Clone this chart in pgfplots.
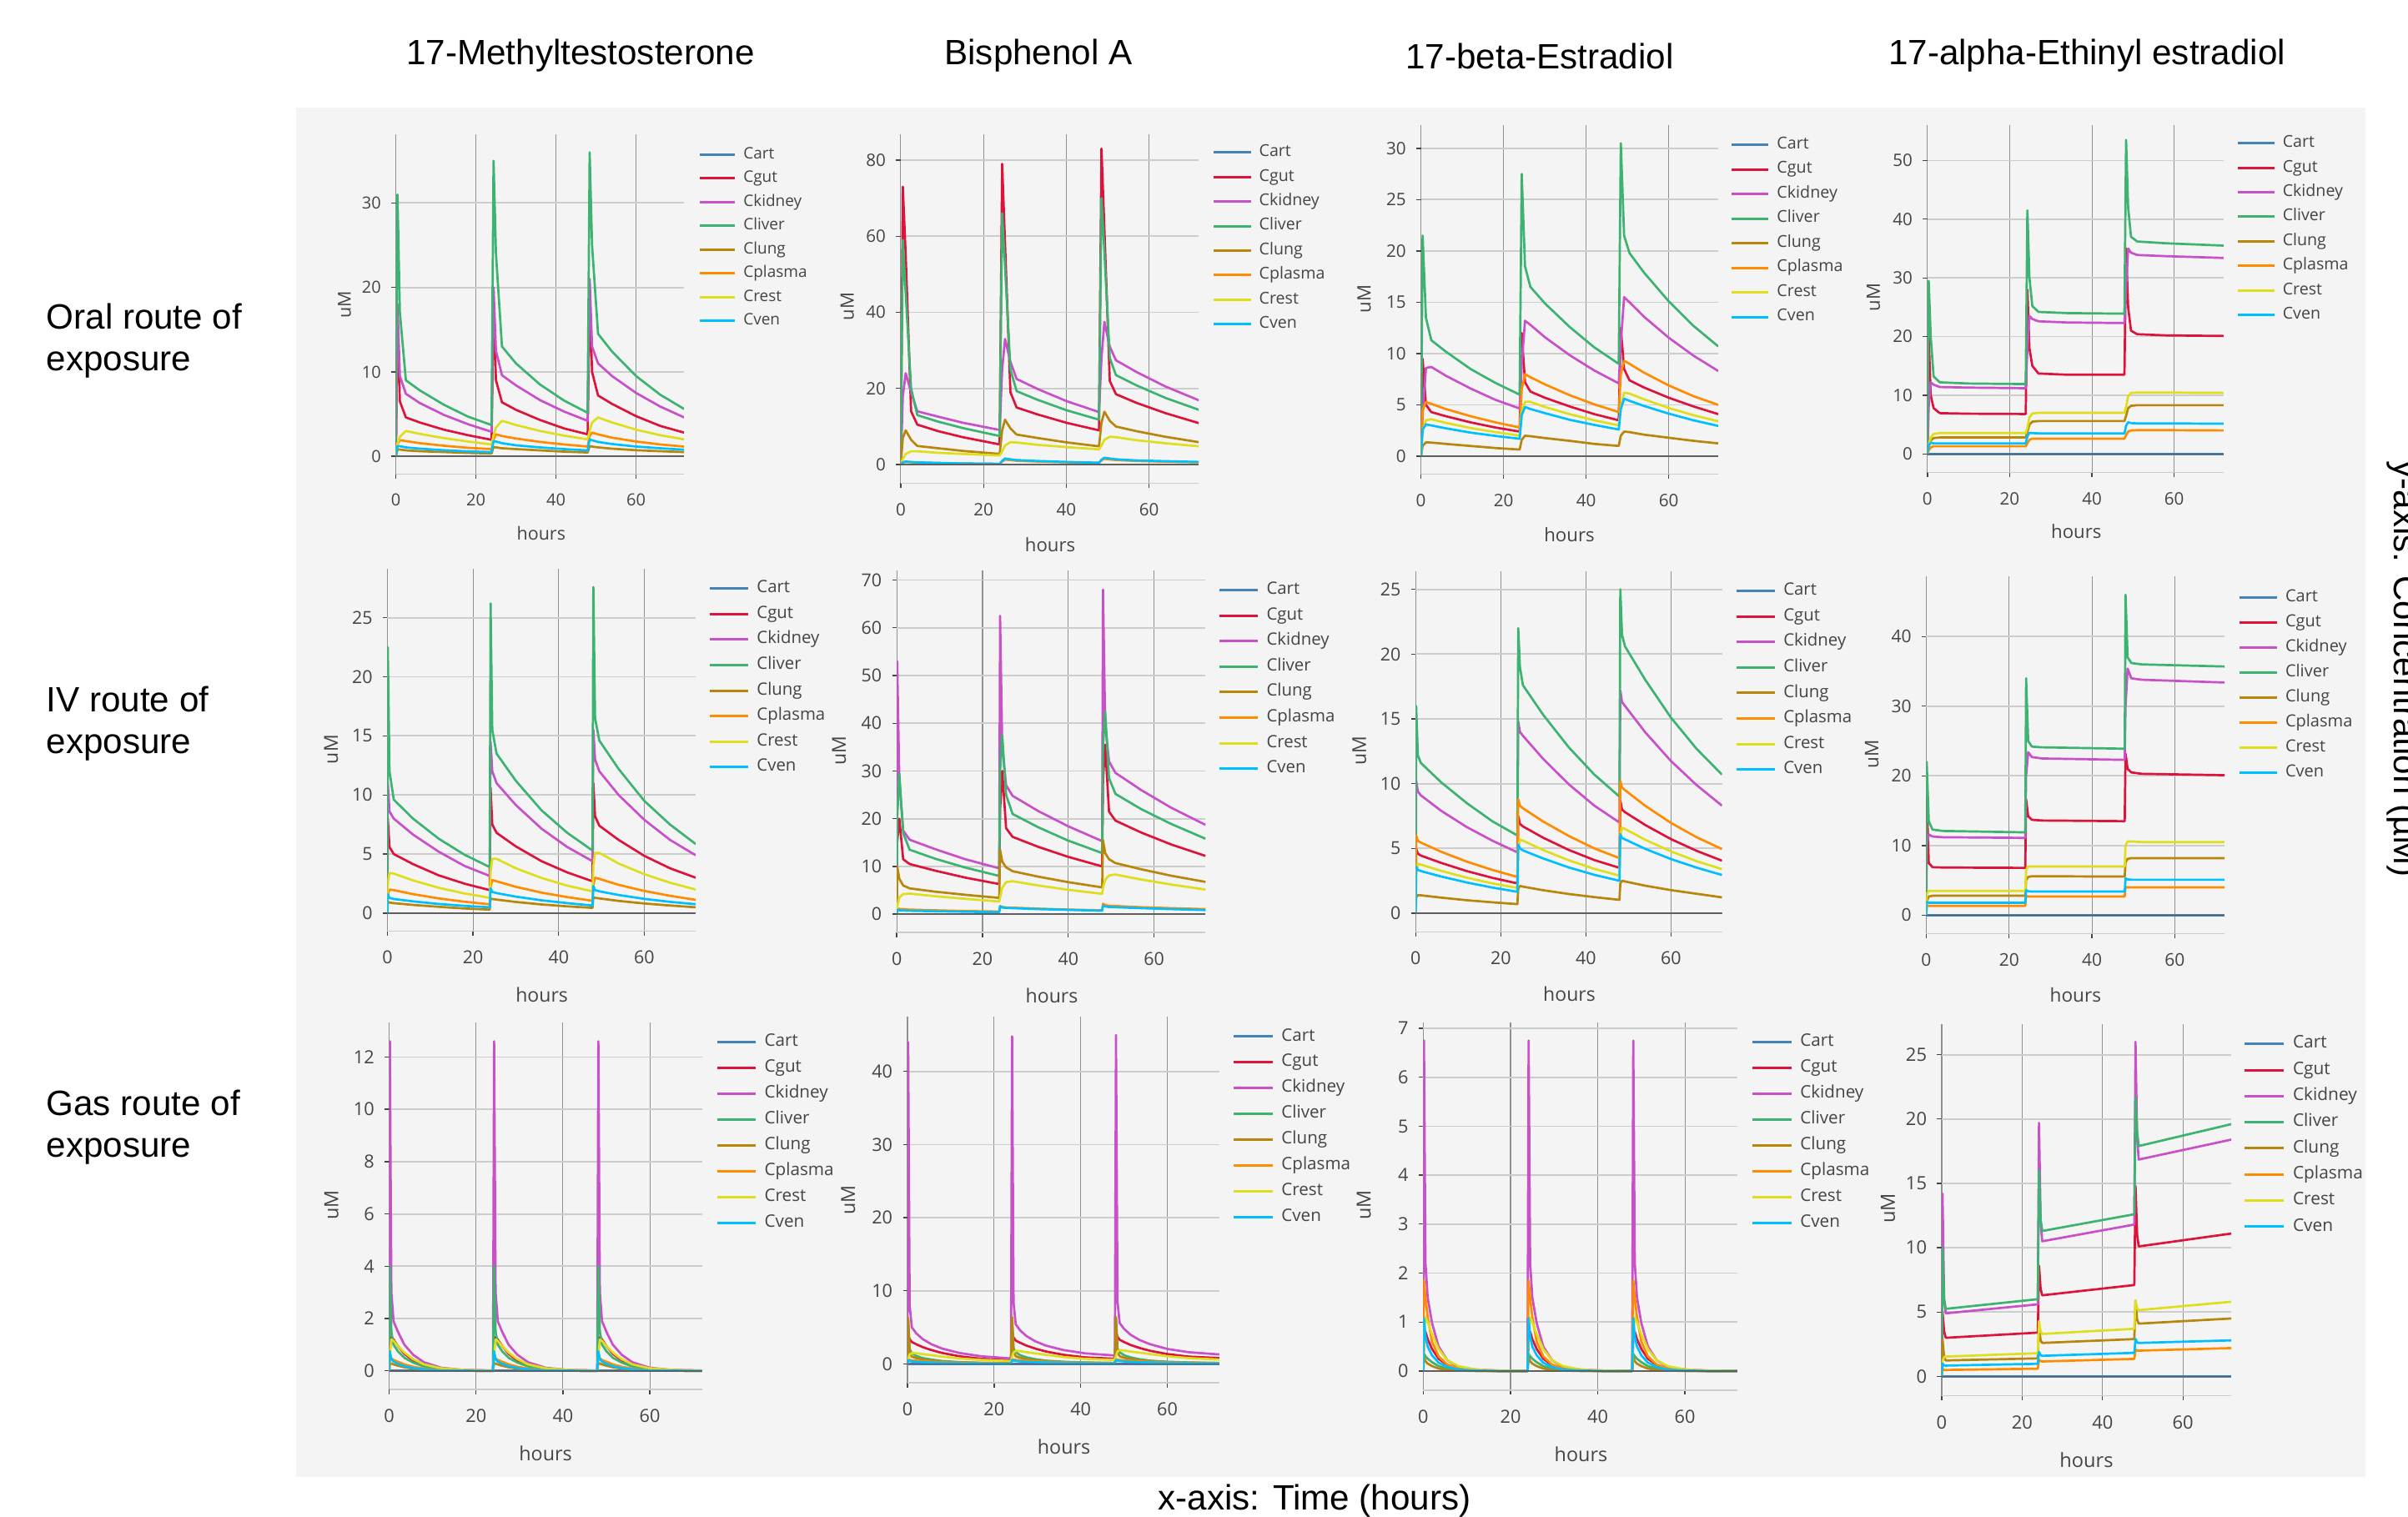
\documentclass[border=0pt]{standalone}
\usepackage{fontspec}
\setmainfont{Liberation Sans}
\newfontfamily\osans{Open Sans}
\usepackage{pgfplots}
\pgfplotsset{compat=1.18}
\usepackage{pgfplotstable}

\definecolor{colCart}{RGB}{70,130,180}
\definecolor{colGut}{RGB}{220,20,60}
\definecolor{colKid}{RGB}{200,80,200}
\definecolor{colLiv}{RGB}{60,179,113}
\definecolor{colLung}{RGB}{184,134,11}
\definecolor{colPlas}{RGB}{255,140,0}
\definecolor{colRest}{RGB}{222,222,28}
\definecolor{colVen}{RGB}{0,191,255}
\definecolor{bg}{RGB}{244,244,244}
\definecolor{txt}{RGB}{68,68,68}
\definecolor{gridv}{RGB}{145,145,145}
\definecolor{gridh}{RGB}{205,205,205}
\definecolor{zerol}{RGB}{95,95,95}

\newcommand\setgeom[5]{%
  \def\XZ{#1}\def\XE{#2}\def\YB{#3}\def\YT{#4}\def\FS{#5}%
  \pgfmathsetlengthmacro\Wd{(#2-#1)*0.1mm}%
  \pgfmathsetlengthmacro\Ht{(#3-#4)*0.1mm}%
  \pgfmathsetlengthmacro\PX{#1*0.1mm}%
  \pgfmathsetlengthmacro\PY{(1818-#3)*0.1mm}%
  \pgfmathsetmacro\TFS{1.05*#5}%
  \pgfmathsetmacro\AFS{1.13*#5}%
}
\newcommand\setlab[7]{%
  \pgfmathsetmacro\lrx{(#1-\XZ)/(\XE-\XZ)}%
  \pgfmathsetmacro\lry{(\YB-(#2-0.5*\FS/0.28453))/(\YB-\YT)}%
  \pgfmathsetlengthmacro\RS{#3*0.28453pt-\FS pt}%
  \pgfmathsetlengthmacro\LL{2.25*\FS pt}%
  \pgfmathsetlengthmacro\CS{0.44*\FS pt}%
  \pgfmathsetlengthmacro\LTH{0.75*\FS pt}%
  \pgfmathsetlengthmacro\LTD{0.25*\FS pt}%
  \pgfmathsetlengthmacro\LHH{0.5*\FS pt}%
  \pgfmathsetmacro\urx{(#4-\XZ)/(\XE-\XZ)}%
  \pgfmathsetmacro\ury{(\YB-#5)/(\YB-\YT)}%
  \pgfmathsetmacro\hrx{(#6-\XZ)/(\XE-\XZ)}%
  \pgfmathsetmacro\hry{(\YB-#7)/(\YB-\YT)}%
}

\pgfplotsset{
 panel/.style={
  scale only axis, width=\Wd, height=\Ht,
  at={(\PX,\PY)}, anchor=south west,
  xmin=0, xmax=72, xtick={0,20,40,60},
  axis x line*=bottom, axis y line*=left,
  x axis line style={-, draw=gridh, line width=0.15mm},
  y axis line style={-, draw=none},
  xmajorgrids, ymajorgrids,
  x grid style={draw=gridv, line width=0.11mm},
  y grid style={draw=gridh, line width=0.18mm},
  tick align=outside, major tick length=0.55mm,
  tick style={draw=txt, line width=0.13mm},
  tick label style={font=\osans\fontsize{\TFS}{\TFS}\selectfont, text=txt},
  xticklabel style={yshift=-0.6mm},
  /pgf/number format/assume math mode=true,
  xlabel={hours}, ylabel={uM},
  label style={font=\osans\fontsize{\AFS}{\AFS}\selectfont, text=txt},
  xlabel style={at={(axis description cs:\hrx,\hry)}, anchor=center},
  ylabel style={at={(axis description cs:\urx,\ury)}, anchor=center},
  legend cell align=left,
  legend style={at={(\lrx,\lry)}, anchor=north west, draw=none, fill=none,
    inner sep=0pt, outer sep=0pt, row sep=\RS, column sep=\CS,
    font=\osans\fontsize{\FS}{\FS}\selectfont, text=txt,
    nodes={inner sep=0pt, text height=\LTH, text depth=\LTD}},
  legend image code/.code={\path[draw=none,fill=none] (0pt,-\LHH) rectangle (\LL,\LHH);
    \draw[##1, line width=0.3mm] (0pt,0pt) -- (\LL,0pt);},
  every axis plot/.append style={line width=0.27mm, line join=round},
 }
}

\newcommand\allseries[1]{%
\addplot[colCart] table[x=t,y=cart]{#1};\addlegendentry{Cart}
\addplot[colGut] table[x=t,y=gut]{#1};\addlegendentry{Cgut}
\addplot[colKid] table[x=t,y=kid]{#1};\addlegendentry{Ckidney}
\addplot[colLiv] table[x=t,y=liv]{#1};\addlegendentry{Cliver}
\addplot[colLung] table[x=t,y=lung]{#1};\addlegendentry{Clung}
\addplot[colPlas] table[x=t,y=plas]{#1};\addlegendentry{Cplasma}
\addplot[colRest] table[x=t,y=rest]{#1};\addlegendentry{Crest}
\addplot[colVen] table[x=t,y=ven]{#1};\addlegendentry{Cven}
\addplot[zerol, line width=0.15mm, forget plot] table[x=t,y=cart]{#1};
}

% ---------- Oral, 17-Methyltestosterone
\pgfplotstableread{
t cart gut kid liv lung plas rest ven
0 0 0 0 0 0 0 0 0
0.4 0 16 18 31 0.8 1.4 1.5 1.2
1 0 6.5 9.5 17 0.8 1.9 2.3 1.2
2.5 0 4.6 7.4 9.0 0.7 1.8 3.0 1.05
6 0 4.0 6.3 7.8 0.6 1.55 2.65 0.9
12 0 3.15 4.9 6.1 0.5 1.25 2.15 0.72
18 0 2.5 3.8 4.7 0.4 1.0 1.75 0.58
23.9 0 1.95 2.9 3.7 0.33 0.85 1.4 0.5
24.4 0 18 20 35 1.1 2.0 2.5 1.8
25 0 9 12.5 24 1.05 2.6 3.4 1.75
26.5 0 6.4 9.6 13 0.95 2.4 4.2 1.55
30 0 5.5 8.4 11.0 0.85 2.1 3.7 1.3
36 0 4.3 6.65 8.5 0.7 1.7 3.0 1.05
42 0 3.3 5.3 6.6 0.55 1.4 2.45 0.85
47.9 0 2.6 4.2 5.15 0.45 1.15 2.0 0.7
48.4 0 19 21 36 1.2 2.4 3.0 2.0
49 0 10 13 25 1.15 2.8 4.0 1.9
50.5 0 7.2 11.0 14.5 1.05 2.6 4.6 1.7
54 0 6.2 9.5 12.4 0.9 2.2 4.0 1.45
60 0 4.75 7.5 9.5 0.72 1.75 3.15 1.15
66 0 3.6 5.9 7.3 0.6 1.4 2.5 0.95
72 0 2.8 4.6 5.6 0.5 1.15 2.0 0.78
}\tA
% ---------- Oral, Bisphenol A
\pgfplotstableread{
t cart gut kid liv lung plas rest ven
0 0 0 0 0 0 0 0 0
0.5 0 73 18 59 7 0.5 1.5 0.6
1.2 0 55 24 45 9.0 0.7 2.8 0.8
2.5 0 14 19 20 6.5 0.6 3.5 0.7
4 0 10.5 14.0 13 4.9 0.5 3.5 0.6
9 0 8.8 12.6 11.3 4.3 0.4 3.1 0.45
15 0 7.2 11.0 9.6 3.6 0.3 2.8 0.3
23.9 0 5.3 9.1 7.5 2.8 0.2 2.4 0.2
24.5 0 79 25 66 9 0.8 3.5 1.0
25.2 0 58 33 52 11.8 1.3 5.0 1.6
26.5 0 19 27 25 9.5 1.2 5.9 1.4
28 0 15.0 22.5 19.3 7.9 1.0 5.8 1.2
33 0 13.2 19.9 17.05 7.0 0.8 5.2 0.95
40 0 11.0 16.7 14.3 5.85 0.6 4.6 0.7
47.9 0 9.0 13.8 11.8 4.8 0.45 4.0 0.5
48.5 0 83 28 70 11 1.1 5.0 1.3
49.2 0 62 37.5 56 13.9 1.5 6.5 1.8
50.5 0 22 31 28 11.5 1.35 7.3 1.6
52 0 18.5 27.4 23.5 10.0 1.2 7.2 1.4
57 0 16.2 24.3 20.8 8.77 0.95 6.4 1.1
64 0 13.5 20.5 17.5 7.3 0.75 5.6 0.9
72 0 10.9 16.9 14.4 5.9 0.6 4.8 0.7
}\tB
% ---------- Oral, 17-beta-Estradiol
\pgfplotstableread{
t cart gut kid liv lung plas rest ven
0 0 0 0 0 0 0 0 0
0.4 0 9.5 4 21.5 1.0 4.5 2.5 2.6
1.2 0 5.0 8.6 13.5 1.35 5.3 3.5 3.1
2.5 0 4.3 8.7 11.3 1.33 5.1 3.6 3.0
6 0 3.9 7.85 10.2 1.2 4.6 3.25 2.72
12 0 3.3 6.6 8.5 1.0 3.9 2.75 2.3
18 0 2.8 5.5 7.15 0.8 3.3 2.35 1.98
23.9 0 2.4 4.65 6.0 0.65 2.8 2.0 1.7
24.4 0 12 9 27.5 1.6 6.5 4.2 4.0
25.2 0 7.2 13.2 18.5 2.0 8.0 5.3 4.8
26.5 0 6.3 12.8 16.5 1.95 7.7 5.3 4.6
30 0 5.7 11.6 14.9 1.77 7.0 4.8 4.2
36 0 4.85 9.85 12.6 1.5 5.95 4.1 3.55
42 0 4.1 8.35 10.6 1.2 5.05 3.5 3.05
47.9 0 3.5 7.1 9.0 1.0 4.3 3.0 2.6
48.4 0 12.5 11 30.5 2.0 8.0 4.8 4.6
49.2 0 8.5 15.5 21.5 2.4 9.3 6.2 5.6
50.5 0 7.4 15.0 19.8 2.35 9.0 6.1 5.4
54 0 6.7 13.6 17.9 2.1 8.15 5.55 4.9
60 0 5.7 11.55 15.1 1.8 6.9 4.7 4.15
66 0 4.85 9.8 12.7 1.5 5.85 4.0 3.5
72 0 4.1 8.3 10.7 1.25 5.0 3.4 2.95
}\tC
% ---------- Oral, 17-alpha-Ethinyl estradiol
\pgfplotstableread{
t cart gut kid liv lung plas rest ven
0 0 0 0 0 0 0 0 0
0.3 0 20 8 29.5 1.2 0.6 1.5 1.5
0.8 0 10 12.2 20 2.3 1.1 2.8 1.9
1.5 0 7.8 11.8 13.2 2.7 1.3 3.4 1.8
3 0 6.95 11.4 12.2 2.8 1.3 3.55 1.8
10 0 6.85 11.3 12.0 2.8 1.3 3.55 1.8
23.9 0 6.8 11.2 11.9 2.8 1.3 3.55 1.8
24.3 0 28 18 41.5 3.8 1.8 4.5 3.0
24.8 0 18 23.5 30 5.0 2.4 6.2 3.6
25.5 0 15.0 23.0 25.2 5.5 2.6 6.9 3.55
27 0 13.7 22.6 24.2 5.6 2.6 7.0 3.5
34 0 13.5 22.4 24.0 5.6 2.6 7.0 3.5
47.9 0 13.5 22.3 23.9 5.6 2.6 7.0 3.5
48.3 0 35 28 53.5 6.5 3.2 8.0 4.8
48.8 0 25 35 42 7.8 3.8 9.8 5.4
49.5 0 21 34.3 37 8.2 4.0 10.4 5.25
51 0 20.4 33.9 36.2 8.3 4.05 10.45 5.2
58 0 20.2 33.7 35.9 8.3 4.05 10.45 5.2
72 0 20.1 33.4 35.5 8.3 4.0 10.4 5.15
}\tD
% ---------- IV, 17-Methyltestosterone
\pgfplotstableread{
t cart gut kid liv lung plas rest ven
0 0 0 0 0 0 0 0 0
0.1 0 8 11 22.5 0.95 1.5 2.5 1.6
0.5 0 5.6 8.6 12 0.9 2.0 3.4 1.3
1.5 0 5.0 8.0 9.6 0.85 1.95 3.35 1.2
6 0 4.15 6.65 8.0 0.7 1.61 2.77 1.0
12 0 3.2 5.2 6.3 0.54 1.25 2.15 0.78
18 0 2.5 4.0 4.95 0.4 0.97 1.67 0.62
23.9 0 1.95 3.15 3.9 0.3 0.75 1.3 0.5
24.1 0 10.6 14.5 26.2 1.25 2.2 3.5 2.1
24.5 0 7.5 12 15.5 1.2 2.8 4.6 1.8
25.5 0 6.8 11.0 13.5 1.15 2.7 4.6 1.7
30 0 5.65 9.15 11.2 0.95 2.23 3.8 1.4
36 0 4.4 7.15 8.7 0.74 1.74 2.98 1.09
42 0 3.45 5.6 6.8 0.58 1.36 2.33 0.85
47.9 0 2.7 4.4 5.3 0.45 1.05 1.85 0.65
48.1 0 11 15.5 27.6 1.35 2.4 4.0 2.3
48.5 0 8.2 13 16.5 1.3 3.0 5.1 1.95
49.5 0 7.4 12.0 14.6 1.25 2.9 5.1 1.85
54 0 6.2 10.0 12.2 1.04 2.4 4.2 1.54
60 0 4.85 7.9 9.5 0.82 1.88 3.3 1.21
66 0 3.8 6.2 7.5 0.65 1.47 2.58 0.96
72 0 3.0 4.9 5.85 0.5 1.13 2.0 0.76
}\tE
% ---------- IV, Bisphenol A
\pgfplotstableread{
t cart gut kid liv lung plas rest ven
0 0 0 0 0 0 0 0 0
0.1 0 15 53 20 10 1.2 1.5 0.9
0.6 0 20 28 29.5 7.4 1.1 3.5 0.8
1.5 0 11.5 17.5 17 6.0 1.0 4.2 0.75
3 0 10.5 15.6 13.5 5.4 0.95 4.3 0.7
9 0 9.1 13.6 11.6 4.7 0.8 3.75 0.6
16 0 7.65 11.5 9.75 4.05 0.65 3.2 0.5
23.9 0 6.3 9.6 8.0 3.4 0.55 2.65 0.4
24.1 0 22 62.5 30 13.5 1.7 3.5 1.6
24.6 0 30 35 37.5 11 1.5 5.5 1.4
25.5 0 18 27 25 9.8 1.4 6.7 1.3
27 0 16.2 24.8 21 9.0 1.35 6.9 1.25
33 0 14.1 21.6 18.2 7.85 1.15 6.0 1.05
40 0 12.0 18.4 15.4 6.7 0.95 5.1 0.9
47.9 0 10.0 15.3 12.8 5.6 0.8 4.25 0.7
48.1 0 28 68 35 15.5 2.2 5.5 1.8
48.6 0 35.5 40 42.5 12.8 1.9 7.2 1.6
49.5 0 21.5 32 28.5 11.5 1.75 8.1 1.5
51 0 19.6 29.6 25.2 10.7 1.7 8.3 1.45
57 0 17.1 26.0 22.0 9.4 1.45 7.25 1.25
64 0 14.6 22.3 18.9 8.05 1.25 6.2 1.05
72 0 12.2 18.7 15.8 6.75 1.05 5.15 0.85
}\tF
% ---------- IV, 17-beta-Estradiol
\pgfplotstableread{
t cart gut kid liv lung plas rest ven
0 0 0 0 0 0 0 0 0
0.1 0 5.0 10.2 16 1.2 6.0 3.0 3.6
0.5 0 4.6 9.4 12.2 1.4 5.6 3.8 3.35
1.2 0 4.45 9.1 11.6 1.38 5.45 3.75 3.25
6 0 3.88 7.9 10.1 1.2 4.74 3.27 2.83
12 0 3.25 6.65 8.5 1.0 3.98 2.74 2.37
18 0 2.73 5.6 7.1 0.84 3.34 2.3 1.98
23.9 0 2.3 4.7 6.0 0.7 2.8 1.95 1.65
24.1 0 7.5 14.8 22 1.9 8.8 5.0 5.3
24.5 0 6.9 14.0 19 2.1 8.3 5.7 5.0
25.2 0 6.7 13.7 17.6 2.05 8.1 5.6 4.85
30 0 5.82 11.9 15.3 1.77 7.07 4.87 4.22
36 0 4.88 9.95 12.8 1.48 5.96 4.08 3.53
42 0 4.1 8.3 10.7 1.24 5.0 3.42 2.96
47.9 0 3.5 7.0 9.0 1.03 4.25 2.9 2.5
48.1 0 8.7 17.2 25 2.3 10.2 6.0 6.1
48.5 0 8.0 16.3 21.5 2.5 9.7 6.6 5.8
49.2 0 7.8 16.0 20.6 2.45 9.5 6.5 5.7
54 0 6.8 13.95 18.0 2.12 8.28 5.66 4.96
60 0 5.72 11.75 15.1 1.78 6.97 4.77 4.18
66 0 4.82 9.9 12.7 1.5 5.87 4.02 3.52
72 0 4.05 8.3 10.7 1.22 4.95 3.4 2.95
}\tG
% ---------- IV, 17-alpha-Ethinyl estradiol
\pgfplotstableread{
t cart gut kid liv lung plas rest ven
0 0 0 0 0 0 0 0 0
0.1 0 17 10 22 2.0 1.4 3.0 1.9
0.6 0 7.5 11.6 13.5 2.7 1.35 3.5 1.8
1.5 0 6.9 11.3 12.3 2.8 1.35 3.5 1.8
4 0 6.85 11.2 12.1 2.8 1.35 3.5 1.8
23.9 0 6.8 11.1 11.9 2.8 1.35 3.5 1.8
24.1 0 16.6 20 34 5.0 2.8 6.5 3.6
24.6 0 14.2 23.4 25 5.5 2.7 7.0 3.45
25.5 0 13.7 22.7 24.2 5.6 2.7 7.0 3.4
28 0 13.6 22.5 24.1 5.6 2.7 7.0 3.4
47.9 0 13.5 22.3 23.9 5.55 2.7 7.0 3.4
48.1 0 23.2 30 46 7.6 4.1 10.0 5.3
48.6 0 21.0 35.4 37 8.1 4.0 10.6 5.15
49.5 0 20.5 34.0 36.2 8.2 4.0 10.6 5.1
52 0 20.3 33.8 36.0 8.2 4.0 10.5 5.1
72 0 20.1 33.4 35.7 8.2 4.0 10.5 5.1
}\tH
% ---------- Gas, 17-Methyltestosterone
\pgfplotstableread{
t cart gut kid liv lung plas rest ven
0 0 0 0 0 0 0 0 0
0.15 0 1.0 12.6 4.0 0.3 0.5 0.6 0.75
0.5 0 1.3 3.0 1.5 0.28 0.48 1.2 0.45
1 0 1.2 1.9 1.0 0.25 0.42 1.15 0.36
2 0 0.95 1.5 0.75 0.2 0.35 0.95 0.27
3.5 0 0.65 1.0 0.5 0.14 0.25 0.7 0.18
5.5 0 0.4 0.62 0.32 0.09 0.16 0.45 0.11
8 0 0.22 0.33 0.17 0.05 0.09 0.25 0.06
12 0 0.08 0.12 0.06 0.02 0.04 0.1 0.02
17 0 0.03 0.04 0.02 0.01 0.01 0.04 0.01
23.9 0 0.01 0.015 0.01 0 0 0.01 0
24.15 0 1.0 12.6 4.0 0.3 0.5 0.6 0.75
24.5 0 1.3 3.0 1.5 0.28 0.48 1.2 0.45
25 0 1.2 1.9 1.0 0.25 0.42 1.15 0.36
26 0 0.95 1.5 0.75 0.2 0.35 0.95 0.27
27.5 0 0.65 1.0 0.5 0.14 0.25 0.7 0.18
29.5 0 0.4 0.62 0.32 0.09 0.16 0.45 0.11
32 0 0.22 0.33 0.17 0.05 0.09 0.25 0.06
36 0 0.08 0.12 0.06 0.02 0.04 0.1 0.02
41 0 0.03 0.04 0.02 0.01 0.01 0.04 0.01
47.9 0 0.01 0.015 0.01 0 0 0.01 0
48.15 0 1.0 12.6 4.0 0.3 0.5 0.6 0.75
48.5 0 1.3 3.0 1.5 0.28 0.48 1.2 0.45
49 0 1.2 1.9 1.0 0.25 0.42 1.15 0.36
50 0 0.95 1.5 0.75 0.2 0.35 0.95 0.27
51.5 0 0.65 1.0 0.5 0.14 0.25 0.7 0.18
53.5 0 0.4 0.62 0.32 0.09 0.16 0.45 0.11
56 0 0.22 0.33 0.17 0.05 0.09 0.25 0.06
60 0 0.08 0.12 0.06 0.02 0.04 0.1 0.02
65 0 0.03 0.04 0.02 0.01 0.01 0.04 0.01
72 0 0.01 0.015 0.01 0 0 0.01 0
}\tI
% ---------- Gas, Bisphenol A
\pgfplotstableread{
t cart gut kid liv lung plas rest ven
0 0 0 0 0 0 0 0 0
0.15 0 4.0 44 6.0 6.3 0.6 0.8 0.5
0.5 0 3.4 8 2.0 1.5 0.55 1.3 0.4
1 0 3.0 5.0 1.5 1.0 0.5 1.5 0.35
2 0 2.7 4.2 1.1 0.8 0.45 1.45 0.3
3.5 0 2.3 3.4 0.8 0.6 0.38 1.35 0.25
5.5 0 1.9 2.7 0.6 0.45 0.3 1.2 0.2
8 0 1.5 2.1 0.4 0.33 0.24 1.0 0.15
12 0 1.05 1.5 0.25 0.22 0.17 0.75 0.1
17 0 0.7 1.05 0.15 0.14 0.12 0.55 0.07
23.9 0 0.5 0.75 0.1 0.1 0.08 0.4 0.05
24.15 0 4.2 44.8 6.2 6.4 0.65 1.0 0.55
24.5 0 3.6 8.3 2.1 1.6 0.6 1.6 0.45
25 0 3.2 5.4 1.6 1.05 0.55 1.8 0.4
26 0 2.9 4.6 1.2 0.85 0.5 1.75 0.35
27.5 0 2.5 3.8 0.9 0.65 0.43 1.6 0.3
29.5 0 2.1 3.1 0.65 0.5 0.35 1.45 0.25
32 0 1.7 2.5 0.45 0.37 0.29 1.25 0.2
36 0 1.25 1.9 0.3 0.25 0.22 0.95 0.14
41 0 0.9 1.45 0.2 0.17 0.17 0.7 0.1
47.9 0 0.7 1.15 0.12 0.12 0.13 0.55 0.07
48.15 0 4.3 45 6.2 6.4 0.65 1.1 0.55
48.5 0 3.7 8.5 2.1 1.6 0.6 1.7 0.45
49 0 3.3 5.6 1.6 1.05 0.55 1.9 0.4
50 0 3.0 4.8 1.2 0.85 0.5 1.85 0.35
51.5 0 2.6 4.0 0.9 0.65 0.43 1.7 0.3
53.5 0 2.2 3.3 0.65 0.5 0.35 1.55 0.25
56 0 1.8 2.7 0.45 0.37 0.29 1.35 0.2
60 0 1.35 2.05 0.3 0.25 0.22 1.05 0.14
65 0 1.0 1.6 0.2 0.17 0.17 0.8 0.1
72 0 0.8 1.3 0.12 0.12 0.13 0.6 0.07
}\tJ
% ---------- Gas, 17-beta-Estradiol
\pgfplotstableread{
t cart gut kid liv lung plas rest ven
0 0 0 0 0 0 0 0 0
0.15 0 0.7 6.75 0.35 0.3 1.85 0.8 1.08
0.5 0 0.8 2.2 0.3 0.2 1.5 1.1 0.7
1 0 0.65 1.5 0.25 0.15 1.1 1.0 0.5
2 0 0.45 0.98 0.18 0.1 0.6 0.75 0.32
3.5 0 0.25 0.5 0.1 0.05 0.3 0.45 0.17
5.5 0 0.12 0.22 0.05 0.02 0.13 0.22 0.08
8 0 0.05 0.08 0.02 0.01 0.05 0.1 0.03
12 0 0.02 0.03 0.01 0 0.02 0.03 0.01
17 0 0 0.01 0 0 0 0.01 0
23.9 0 0 0 0 0 0 0 0
24.15 0 0.7 6.75 0.35 0.3 1.85 0.8 1.08
24.5 0 0.8 2.2 0.3 0.2 1.5 1.1 0.7
25 0 0.65 1.5 0.25 0.15 1.1 1.0 0.5
26 0 0.45 0.98 0.18 0.1 0.6 0.75 0.32
27.5 0 0.25 0.5 0.1 0.05 0.3 0.45 0.17
29.5 0 0.12 0.22 0.05 0.02 0.13 0.22 0.08
32 0 0.05 0.08 0.02 0.01 0.05 0.1 0.03
36 0 0.02 0.03 0.01 0 0.02 0.03 0.01
41 0 0 0.01 0 0 0 0.01 0
47.9 0 0 0 0 0 0 0 0
48.15 0 0.7 6.75 0.35 0.3 1.85 0.8 1.08
48.5 0 0.8 2.2 0.3 0.2 1.5 1.1 0.7
49 0 0.65 1.5 0.25 0.15 1.1 1.0 0.5
50 0 0.45 0.98 0.18 0.1 0.6 0.75 0.32
51.5 0 0.25 0.5 0.1 0.05 0.3 0.45 0.17
53.5 0 0.12 0.22 0.05 0.02 0.13 0.22 0.08
56 0 0.05 0.08 0.02 0.01 0.05 0.1 0.03
60 0 0.02 0.03 0.01 0 0.02 0.03 0.01
65 0 0 0.01 0 0 0 0.01 0
72 0 0 0 0 0 0 0 0
}\tK
% ---------- Gas, 17-alpha-Ethinyl estradiol
\pgfplotstableread{
t cart gut kid liv lung plas rest ven
0 0 0 0 0 0 0 0 0
0.2 0 5 14.2 10 2.9 0.6 1.2 1.0
0.6 0 3.5 6 6 1.5 0.5 1.5 0.85
1 0 3.0 4.9 5.25 1.24 0.5 1.54 0.84
23.9 0 3.4 5.6 6.0 1.4 0.6 1.8 0.98
24.2 0 8.6 19.7 16 3.8 1.3 4.3 1.9
24.6 0 6.8 12 12.2 2.8 1.2 3.5 1.65
25 0 6.3 10.5 11.3 2.6 1.16 3.3 1.6
47.9 0 7.1 11.8 12.6 2.9 1.36 3.7 1.83
48.2 0 14.8 26 21.7 5.9 2.1 5.9 2.9
48.6 0 11 18.5 19 4.4 2.0 5.3 2.65
49 0 10.1 16.85 17.9 4.1 2.0 5.15 2.6
72 0 11.1 18.4 19.6 4.5 2.2 5.8 2.8
}\tL

\begin{document}
\begin{tikzpicture}
\path[use as bounding box] (0,0) rectangle (288.7mm,181.8mm);
\clip (0,0) rectangle (288.7mm,181.8mm);
\fill[white] (0,0) rectangle (288.7mm,181.8mm);
\fill[bg] ({355*0.1mm},{(1818-129)*0.1mm}) rectangle ({2836*0.1mm},{(1818-1771)*0.1mm});

% column titles
\begin{scope}[every node/.style={font=\fontsize{12}{14}\selectfont, anchor=center}]
\node at ({696*0.1mm},{(1818-67)*0.1mm}) {17-Methyltestosterone};
\node at ({1245*0.1mm},{(1818-67)*0.1mm}) {Bisphenol A};
\node at ({1846*0.1mm},{(1818-67)*0.1mm}) {17-beta-Estradiol};
\node at ({2502*0.1mm},{(1818-67)*0.1mm}) {17-alpha-Ethinyl estradiol};
\node at ({1576*0.1mm},{(1818-1800)*0.1mm}) {x-axis: Time (hours)};
\end{scope}
\begin{scope}[every node/.style={font=\fontsize{12}{14.2}\selectfont, anchor=west, align=left, inner sep=0pt}]
\node at ({55*0.1mm},{(1818-409)*0.1mm}) {Oral route of\\exposure};
\node at ({55*0.1mm},{(1818-868)*0.1mm}) {IV route of\\exposure};
\node at ({55*0.1mm},{(1818-1352)*0.1mm}) {Gas route of\\exposure};
\end{scope}
\node[rotate=-90, anchor=base west, inner sep=0pt, font=\fontsize{12}{14}\selectfont] at ({2870*0.1mm},{(1818-552)*0.1mm}) {y-axis: Concentration (µM)};

% ===== Row 1: oral
\setgeom{474.6}{820.2}{568.6}{161.4}{5.41}
\setlab{837.1}{185.4}{28.5}{413}{365.7}{648.8}{639}
\begin{axis}[panel, ymin=-2.12, ymax=38.1, ytick={0,10,20,30}]
\allseries{\tA}
\end{axis}

\setgeom{1079.9}{1437.2}{579.3}{161.4}{5.58}
\setlab{1453.9}{182.9}{29.4}{1015.8}{367.5}{1259}{653.2}
\begin{axis}[panel, ymin=-4.86, ymax=86.7, ytick={0,20,40,60,80}]
\allseries{\tB}
\end{axis}

\setgeom{1703.6}{2060}{568.6}{149.6}{5.6}
\setlab{2074.5}{173.6}{29.5}{1635.6}{358.6}{1881.5}{640.7}
\begin{axis}[panel, ymin=-1.75, ymax=32.3, ytick={0,5,10,15,20,25,30}]
\allseries{\tC}
\end{axis}

\setgeom{2310.8}{2665.8}{566.4}{149.6}{5.58}
\setlab{2681}{171.8}{29.4}{2246}{356.8}{2489.2}{637.1}
\begin{axis}[panel, ymin=-3.14, ymax=56.1, ytick={0,10,20,30,40,50}]
\allseries{\tD}
\end{axis}

% ===== Row 2: IV
\setgeom{464.4}{834.1}{1116.4}{682.5}{5.8}
\setlab{849.6}{705.7}{30.6}{397}{898.6}{649.6}{1193.2}
\begin{axis}[panel, ymin=-1.51, ymax=29.1, ytick={0,5,10,15,20,25}]
\allseries{\tE}
\end{axis}

\setgeom{1075.1}{1445.3}{1118.2}{683.6}{5.8}
\setlab{1460.7}{707.5}{30.6}{1006}{900.4}{1261}{1194.3}
\begin{axis}[panel, ymin=-3.86, ymax=72.1, ytick={0,10,20,30,40,50,60,70}]
\allseries{\tF}
\end{axis}

\setgeom{1697.3}{2064.5}{1117.5}{685}{5.8}
\setlab{2080.4}{708.6}{30.6}{1629.7}{900.4}{1881.5}{1192.1}
\begin{axis}[panel, ymin=-1.45, ymax=26.4, ytick={0,5,10,15,20,25}]
\allseries{\tG}
\end{axis}

\setgeom{2309.4}{2667}{1119.3}{691.4}{5.69}
\setlab{2683.2}{716.4}{30}{2244.2}{903.9}{2488.3}{1193.2}
\begin{axis}[panel, ymin=-2.61, ymax=48.6, ytick={0,10,20,30,40}]
\allseries{\tH}
\end{axis}

% ===== Row 3: gas
\setgeom{466.6}{841.6}{1666.1}{1226}{5.88}
\setlab{858.1}{1249.7}{31}{397.4}{1444.9}{654.1}{1742.6}
\begin{axis}[panel, ymin=-0.71, ymax=13.32, ytick={0,2,4,6,8,10,12}]
\allseries{\tI}
\end{axis}

\setgeom{1088}{1461.8}{1658}{1219}{5.86}
\setlab{1478}{1242.9}{30.9}{1016.8}{1439}{1275.5}{1735}
\begin{axis}[panel, ymin=-2.57, ymax=47.5, ytick={0,10,20,30,40}]
\allseries{\tJ}
\end{axis}

\setgeom{1706.4}{2082.8}{1666.8}{1226}{5.88}
\setlab{2099.7}{1249.7}{31}{1635}{1445}{1895.4}{1743.4}
\begin{axis}[panel, ymin=-0.39, ymax=7.12, ytick={0,1,2,3,4,5,6,7}]
\allseries{\tK}
\end{axis}

\setgeom{2327.9}{2675}{1673.7}{1227.6}{5.94}
\setlab{2689.8}{1251.7}{31.3}{2263.5}{1448.7}{2501.4}{1751}
\begin{axis}[panel, ymin=-1.51, ymax=27.4, ytick={0,5,10,15,20,25}]
\allseries{\tL}
\end{axis}
\end{tikzpicture}
\end{document}
